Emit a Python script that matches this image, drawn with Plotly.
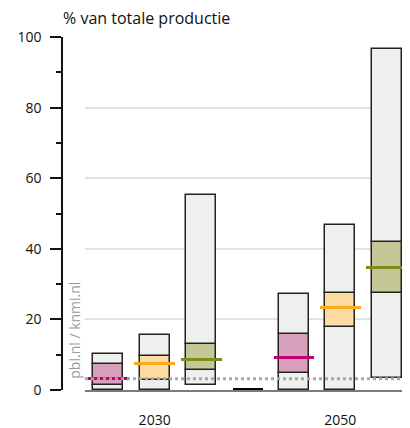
import plotly.graph_objects as go

# ---- data ----
categories = ["2030-a", "2030-b", "2030-c", "gap", "2050-a", "2050-b", "2050-c"]
bar_categories = ["2030-a", "2030-b", "2030-c", "2050-a", "2050-b", "2050-c"]
bottom = [0.0, 0.0, 1.4, 0.0, 0.0, 3.4]
low = [1.4, 2.7, 5.6, 4.7, 17.8, 27.6]
high = [7.5, 9.5, 13.1, 15.8, 27.5, 41.9]
top = [10.1, 15.6, 55.3, 27.3, 46.7, 96.7]
median = [3.4, 7.6, 8.7, 9.2, 23.4, 34.8]
reference_level = 3.2
tick_cats = ["2030-b", "2050-b"]
tick_text = ["2030", "2050"]

band_fill = ["#d9a0bb", "#fedba0", "#c4c897", "#d9a0bb", "#fedba0", "#c4c897"]
median_color = ["#c1006f", "#f9ab1d", "#7d8c1c", "#c1006f", "#f9ab1d", "#7d8c1c"]
grey_fill = "#eef0ee"
edge = "#222222"

# page has an 8px body margin, so the figure is drawn offset by 8px
W, H = 402, 420
BAR_W = 0.646
MED_W = 0.88
MED_H = 0.85

fig = go.Figure()

# lower grey part
fig.add_trace(go.Bar(
    x=bar_categories, base=bottom, y=[l - b for l, b in zip(low, bottom)],
    width=BAR_W, marker=dict(color=grey_fill, line=dict(color=edge, width=1.5)),
    hoverinfo="skip", showlegend=False))
# coloured band
fig.add_trace(go.Bar(
    x=bar_categories, base=low, y=[h - l for h, l in zip(high, low)],
    width=BAR_W, marker=dict(color=band_fill, line=dict(color=edge, width=1.5)),
    hoverinfo="skip", showlegend=False))
# upper grey part
fig.add_trace(go.Bar(
    x=bar_categories, base=high, y=[t - h for t, h in zip(top, high)],
    width=BAR_W, marker=dict(color=grey_fill, line=dict(color=edge, width=1.5)),
    hoverinfo="skip", showlegend=False))
# median lines
fig.add_trace(go.Bar(
    x=bar_categories, base=[m - MED_H / 2 for m in median], y=[MED_H] * len(median),
    width=MED_W, marker=dict(color=median_color, line=dict(width=0)),
    hoverinfo="skip", showlegend=False))
# black separator on baseline in the gap category
fig.add_trace(go.Bar(
    x=["gap"], base=[0], y=[0.5], width=BAR_W,
    marker=dict(color="#000000", line=dict(width=0)),
    hoverinfo="skip", showlegend=False))

fig.add_shape(type="line", xref="paper", yref="y", x0=77 / W, x1=1,
              y0=reference_level, y1=reference_level,
              line=dict(color="#a8a8a8", width=3, dash="dot"), layer="above")

fig.add_annotation(text="% van totale productie", xref="paper", yref="paper",
                   x=53 / W, y=1.0, xanchor="left", yanchor="bottom", yshift=6,
                   showarrow=False, font=dict(size=16, color="#111111"))
fig.add_annotation(text="pbl.nl / knmi.nl", xref="paper", yref="y",
                   x=67 / W, y=16.8, textangle=-90, showarrow=False,
                   xanchor="center", yanchor="middle",
                   font=dict(size=14, color="#9a9a9a"))

fig.update_layout(
    width=W, height=H,
    margin=dict(l=0, r=0, t=29, b=38),
    paper_bgcolor="white", plot_bgcolor="white",
    barmode="overlay", bargap=0,
    font=dict(family="Open Sans", size=14, color="#111111"),
    xaxis=dict(domain=[77 / W, 1], type="category",
               categoryorder="array", categoryarray=categories,
               tickmode="array", tickvals=tick_cats, ticktext=tick_text,
               showline=True, linecolor="#7a7a7a", linewidth=1.5,
               ticks="", showgrid=False, zeroline=False,
               ticklabelstandoff=16, tickfont=dict(size=14)),
    yaxis=dict(range=[0, 100], anchor="free", position=54 / W,
               tickmode="array", tickvals=[0, 20, 40, 60, 80, 100],
               showline=True, linecolor="#111111", linewidth=1.5,
               ticks="outside", ticklen=11, tickwidth=1.5, tickcolor="#111111",
               minor=dict(tickvals=[10, 30, 50, 70, 90], ticks="outside",
                          ticklen=5, tickwidth=1.5, tickcolor="#111111",
                          showgrid=False),
               showgrid=True, gridcolor="#e2e2e2", gridwidth=1.5,
               zeroline=False, ticklabelstandoff=6, tickfont=dict(size=14)),
)

fig.write_html("out.html")
